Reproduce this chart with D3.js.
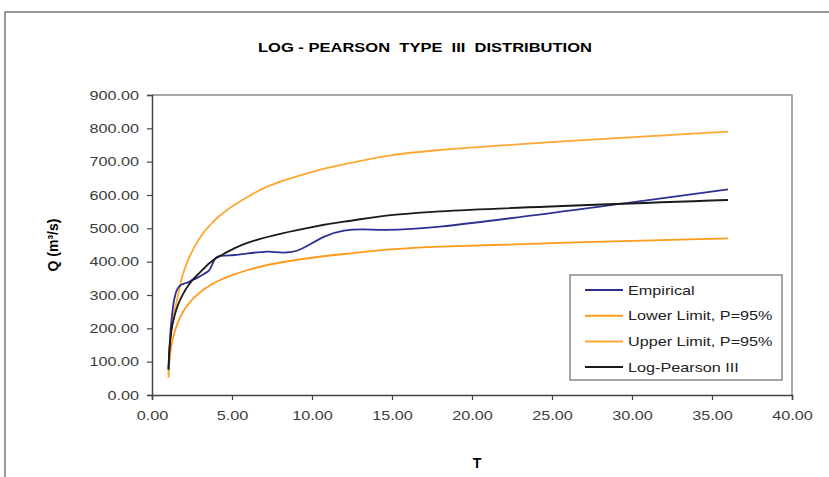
<!DOCTYPE html>
<html>
<head>
<meta charset="utf-8">
<script src="https://cdn.jsdelivr.net/npm/d3@7"></script>
<style>
  body { margin: 0; background: #fff; }
  text { font-family: "Liberation Sans", Arial, sans-serif; }
</style>
</head>
<body>
<script>
// return periods T = 36/m (n = 35 years)
var T = [1.03, 1.06, 1.09, 1.13, 1.16, 1.20, 1.24, 1.29, 1.33, 1.38, 1.44, 1.50,
         1.57, 1.64, 1.71, 1.80, 1.89, 2.00, 2.12, 2.25, 2.40, 2.57, 2.77, 3.00,
         3.27, 3.60, 4.00, 4.50, 5.14, 6.00, 7.20, 9.00, 12.00, 18.00, 36.00];

var empirical = [75, 110, 140, 170, 195, 215, 235, 255, 270, 285, 297, 308,
                 316, 322, 326, 330, 332, 334, 336, 338, 342, 346, 350, 356,
                 364, 376, 412, 418, 420, 425, 430, 432, 493, 505, 617];
var lowerLimit = [52, 80, 100, 120, 132, 145, 155, 166, 174, 183, 193, 202,
                  211, 220, 228, 237, 245, 254, 263, 271, 280, 289, 298, 308,
                  318, 328, 339, 350, 362, 375, 390, 405, 423, 445, 470];
var upperLimit = [62, 100, 130, 158, 175, 193, 208, 223, 235, 246, 258, 272,
                  287, 302, 316, 338, 355, 372, 388, 404, 420, 437, 454, 472,
                  490, 508, 528, 548, 570, 595, 625, 655, 692, 735, 790];
var logPearson = [78, 110, 135, 158, 172, 188, 200, 213, 222, 232, 243, 253,
                  263, 272, 280, 290, 298, 308, 318, 327, 337, 347, 357, 368,
                  381, 396, 410, 424, 440, 457, 474, 494, 520, 551, 585];

var seriesNames = ["Empirical", "Lower Limit, P=95%", "Upper Limit, P=95%", "Log-Pearson III"];
var seriesColors = ["#2e3192", "#ff9a1a", "#ffa733", "#1a1a1a"];
var xTicks = [0, 5, 10, 15, 20, 25, 30, 35, 40];
var yTicks = [0, 100, 200, 300, 400, 500, 600, 700, 800, 900];

var W = 829, H = 477;
var svg = d3.select("body").append("svg").attr("width", W).attr("height", H);

// image is stretched horizontally, mimic on text
var STRETCH = 1.2;
function stretch(sel) {
  sel.each(function() {
    var l = this.getComputedTextLength();
    d3.select(this).attr("textLength", l * STRETCH).attr("lengthAdjust", "spacingAndGlyphs");
  });
}

// outer chart frame
svg.append("path").attr("d", "M5,477 V12 H829")
  .attr("fill", "none").attr("stroke", "#777").attr("stroke-width", 1.5);

var x = d3.scaleLinear().domain([0, 40]).range([152, 792]);
var y = d3.scaleLinear().domain([0, 900]).range([395, 95]);

// plot area border (top / right)
svg.append("path").attr("d", "M152,95 H792 V395")
  .attr("fill", "none").attr("stroke", "#8a8a8a").attr("stroke-width", 1.5);

var xAxis = svg.append("g").attr("transform", "translate(0,395)")
  .call(d3.axisBottom(x).tickValues(xTicks).tickSize(5).tickPadding(8)
    .tickFormat(d3.format(".2f")));
var yAxis = svg.append("g").attr("transform", "translate(152,0)")
  .call(d3.axisLeft(y).tickValues(yTicks).tickSize(5).tickPadding(8)
    .tickFormat(d3.format(".2f")));

[xAxis, yAxis].forEach(function(a) {
  a.select(".domain").attr("stroke", "#444").attr("stroke-width", 1.5);
  a.selectAll(".tick line").attr("stroke", "#444").attr("stroke-width", 1.2);
  a.selectAll(".tick text").attr("fill", "#3c3c3c")
    .style("font-size", "13.5px").style("font-family", "Liberation Sans, Arial, sans-serif");
  stretch(a.selectAll(".tick text"));
});
xAxis.selectAll(".tick text").attr("dy", "0.9em");

// lines
var allSeries = [empirical, lowerLimit, upperLimit, logPearson];
var line = d3.line()
  .x(function(d) { return x(d[0]); })
  .y(function(d) { return y(d[1]); })
  .curve(d3.curveCatmullRom.alpha(0));

[1, 2, 0, 3].forEach(function(i) {
  svg.append("path")
    .datum(T.map(function(t, j) { return [t, allSeries[i][j]]; }))
    .attr("d", line)
    .attr("fill", "none")
    .attr("stroke", seriesColors[i])
    .attr("stroke-width", 1.8);
});

// title
svg.append("text")
  .attr("x", 425).attr("y", 52)
  .attr("text-anchor", "middle")
  .attr("font-weight", "bold").attr("font-size", 13)
  .attr("textLength", 334).attr("lengthAdjust", "spacingAndGlyphs")
  .style("white-space", "pre")
  .text("LOG - PEARSON  TYPE  III  DISTRIBUTION");

// axis titles
svg.append("text")
  .attr("transform", "translate(58,245) rotate(-90)")
  .attr("text-anchor", "middle")
  .attr("font-weight", "bold").attr("font-size", 14)
  .text("Q (m³/s)");
svg.append("text")
  .attr("x", 477).attr("y", 468)
  .attr("text-anchor", "middle")
  .attr("font-weight", "bold").attr("font-size", 14)
  .text("T");

// legend
var lg = svg.append("g");
lg.append("rect").attr("x", 570).attr("y", 275).attr("width", 212).attr("height", 105)
  .attr("fill", "#fff").attr("stroke", "#888").attr("stroke-width", 1.5);
var items = lg.selectAll(".item").data(seriesNames).enter().append("g")
  .attr("transform", function(d, i) { return "translate(585," + (290 + i * 25.7) + ")"; });
items.append("line").attr("x1", 0).attr("x2", 38)
  .attr("stroke", function(d, i) { return seriesColors[i]; })
  .attr("stroke-width", 2);
items.append("text").attr("x", 43).attr("dy", "0.35em")
  .attr("font-size", 13.5).attr("fill", "#222")
  .text(function(d) { return d; });
stretch(items.selectAll("text"));
</script>
</body>
</html>
